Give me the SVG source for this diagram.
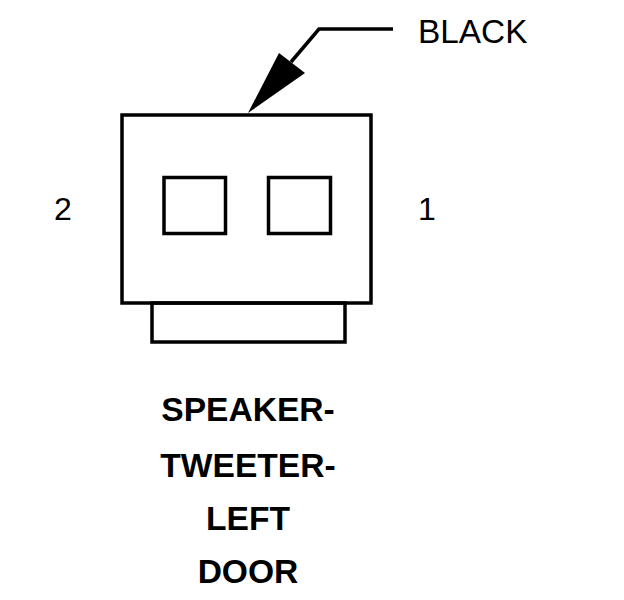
<svg xmlns="http://www.w3.org/2000/svg" width="624" height="600" viewBox="0 0 624 600">
<style>
.s{fill:none;stroke:#000;stroke-width:3.5}
.t{font-family:"Liberation Sans",Arial,sans-serif;font-size:32px;fill:#000}
.b{font-family:"Liberation Sans",Arial,sans-serif;font-size:33.6px;font-weight:bold;fill:#000;text-anchor:middle}
</style>
<rect width="624" height="600" fill="#fff"/>
<g id="connector-body">
<rect class="s" x="122" y="115" width="249" height="188"/>
<rect class="s" x="152" y="303" width="193" height="39"/>
<rect class="s" x="164" y="177.500" width="61.500" height="56"/>
<rect class="s" x="268.500" y="177.500" width="62" height="56"/>
</g>
<g id="connectors">
<path class="s" d="M393 29H319L291 62"/>
<polygon points="248,113 279,53 305,73"/>
</g>
<g id="labels">
<text class="t" x="418" y="43" style="font-size:33.400px">BLACK</text>
<text class="t" x="54" y="220">2</text>
<text class="t" x="418" y="220">1</text>
<text class="b" x="248" y="421">SPEAKER-</text>
<text class="b" x="248" y="477">TWEETER-</text>
<text class="b" x="248" y="530">LEFT</text>
<text class="b" x="248" y="583">DOOR</text>
</g>
</svg>
